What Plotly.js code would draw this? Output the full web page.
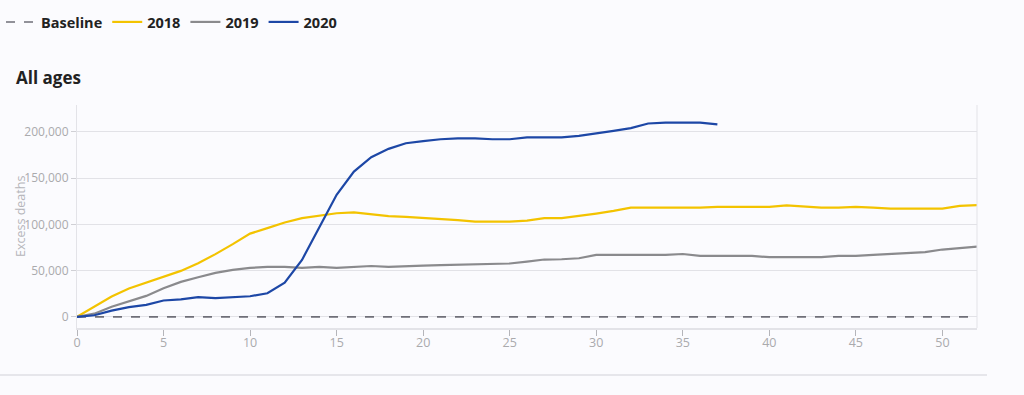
<!DOCTYPE html>
<html>
<head>
<meta charset="utf-8">
<script src="https://cdn.plot.ly/plotly-3.0.1.min.js"></script>
<style>
html,body{margin:0;padding:0;background:#fbfbfe;}
#chart{width:1024px;height:395px;}
</style>
</head>
<body>
<div id="chart"></div>
<script>
const weeks = Array.from({length: 53}, (_, i) => i);
const weeks2020 = weeks.slice(0, 38);

const baseline = weeks.map(() => 0);

const y2018 = [0, 11000, 22000, 30600, 37000, 43600, 49700, 58000, 67800, 78600,
  90000, 95900, 102000, 106700, 109500, 112000, 113000, 111000, 109000, 108000,
  107000, 106000, 104500, 103000, 103000, 103000, 104000, 106700, 106700, 109000,
  111700, 114600, 118000, 118000, 118000, 118000, 118000, 119000, 119000, 119000,
  119000, 120500, 119500, 118000, 118000, 119000, 118000, 117000, 117000, 117000,
  117000, 120000, 120700];

const y2019 = [0, 3500, 11000, 17000, 22700, 31000, 37800, 42900, 47600, 50800,
  53000, 54000, 54000, 53000, 54000, 53000, 54000, 55000, 54000, 55000,
  55500, 56000, 56500, 56600, 57700, 57700, 59800, 62000, 62300, 63400,
  67000, 67000, 67000, 67000, 67000, 68000, 66000, 66000, 66000, 66000,
  64500, 64500, 64500, 64500, 66000, 66000, 67000, 67800, 68800, 70000,
  72800, 74600, 76000];

const y2020 = [0, 1800, 6800, 10500, 13000, 17700, 19000, 21300, 20200, 21300,
  22300, 25600, 37000, 61600, 97600, 132000, 157000, 172600, 181600, 187700,
  190000, 192000, 193000, 193000, 192000, 192000, 194000, 194000, 194000, 195700,
  198000, 201000, 204000, 209000, 210000, 210000, 210000, 208000];

const traces = [
  {x: weeks, y: baseline, name: 'Baseline', type: 'scatter', mode: 'lines',
   line: {color: '#6f6f78', width: 1.6, dash: 'dash'}, hoverinfo: 'skip'},
  {x: weeks, y: y2018, name: '2018', type: 'scatter', mode: 'lines',
   line: {color: '#f3c300', width: 2.2}},
  {x: weeks, y: y2019, name: '2019', type: 'scatter', mode: 'lines',
   line: {color: '#8a8a8d', width: 2.2}},
  {x: weeks2020, y: y2020, name: '2020', type: 'scatter', mode: 'lines',
   line: {color: '#1d47a6', width: 2.2}}
];

const L = 77, R = 977, T = 105, B = 328;
const W = R - L, H = B - T;
const px = v => (v - L) / W;
const py = v => (B - v) / H;

const layout = {
  width: 1024, height: 395,
  margin: {l: L, r: 1024 - R, t: T, b: 395 - B, pad: 0, autoexpand: false},
  paper_bgcolor: '#fbfbfe',
  plot_bgcolor: '#fbfbfe',
  font: {family: 'Open Sans, sans-serif', color: '#aaaaad', size: 12},
  showlegend: true,
  legend: {
    orientation: 'h', x: px(1), y: py(22), xanchor: 'left', yanchor: 'middle',
    font: {family: 'Open Sans, sans-serif', size: 14.5, color: '#222222', weight: 700},
    bgcolor: 'rgba(0,0,0,0)', itemwidth: 30, tracegroupgap: 0
  },
  xaxis: {
    range: [0, 52], dtick: 5, tick0: 0, automargin: false,
    showgrid: false, zeroline: false,
    showline: true, linecolor: '#e3e3e8', linewidth: 2,
    ticks: 'outside', ticklen: 6, tickcolor: '#b5b5ba', tickwidth: 1,
    ticklabelstandoff: -4,
    tickfont: {size: 12.5, color: '#aaaaad'}
  },
  yaxis: {
    range: [-12000, 229000], dtick: 50000, tick0: 0, tickformat: ',d', automargin: false,
    showgrid: true, gridcolor: '#e2e2e7', gridwidth: 1,
    zeroline: false,
    showline: true, linecolor: '#e3e3e8', linewidth: 1,
    ticks: 'outside', ticklen: 5, tickcolor: '#d0d0d5', tickwidth: 1,
    tickfont: {size: 12, color: '#aaaaad'}
  },
  shapes: [
    {type: 'line', xref: 'paper', yref: 'paper', x0: 1, x1: 1, y0: 0, y1: 1,
     line: {color: '#e3e3e8', width: 1}},
    {type: 'line', xref: 'paper', yref: 'paper', x0: px(0), x1: px(987), y0: py(375), y1: py(375),
     line: {color: '#e6e6eb', width: 2}}
  ],
  annotations: [
    {text: 'All ages', xref: 'paper', yref: 'paper', x: px(14), y: py(77),
     xanchor: 'left', yanchor: 'middle', showarrow: false,
     font: {family: 'Open Sans, sans-serif', size: 17, color: '#222222', weight: 700}},
    {text: 'Excess deaths', xref: 'paper', yref: 'paper', x: px(20), y: py(216),
     xanchor: 'center', yanchor: 'middle', showarrow: false, textangle: -90,
     font: {family: 'Open Sans, sans-serif', size: 12.5, color: '#b5b5ba'}}
  ]
};

Plotly.newPlot('chart', traces, layout, {displayModeBar: false, staticPlot: true});
</script>
</body>
</html>
